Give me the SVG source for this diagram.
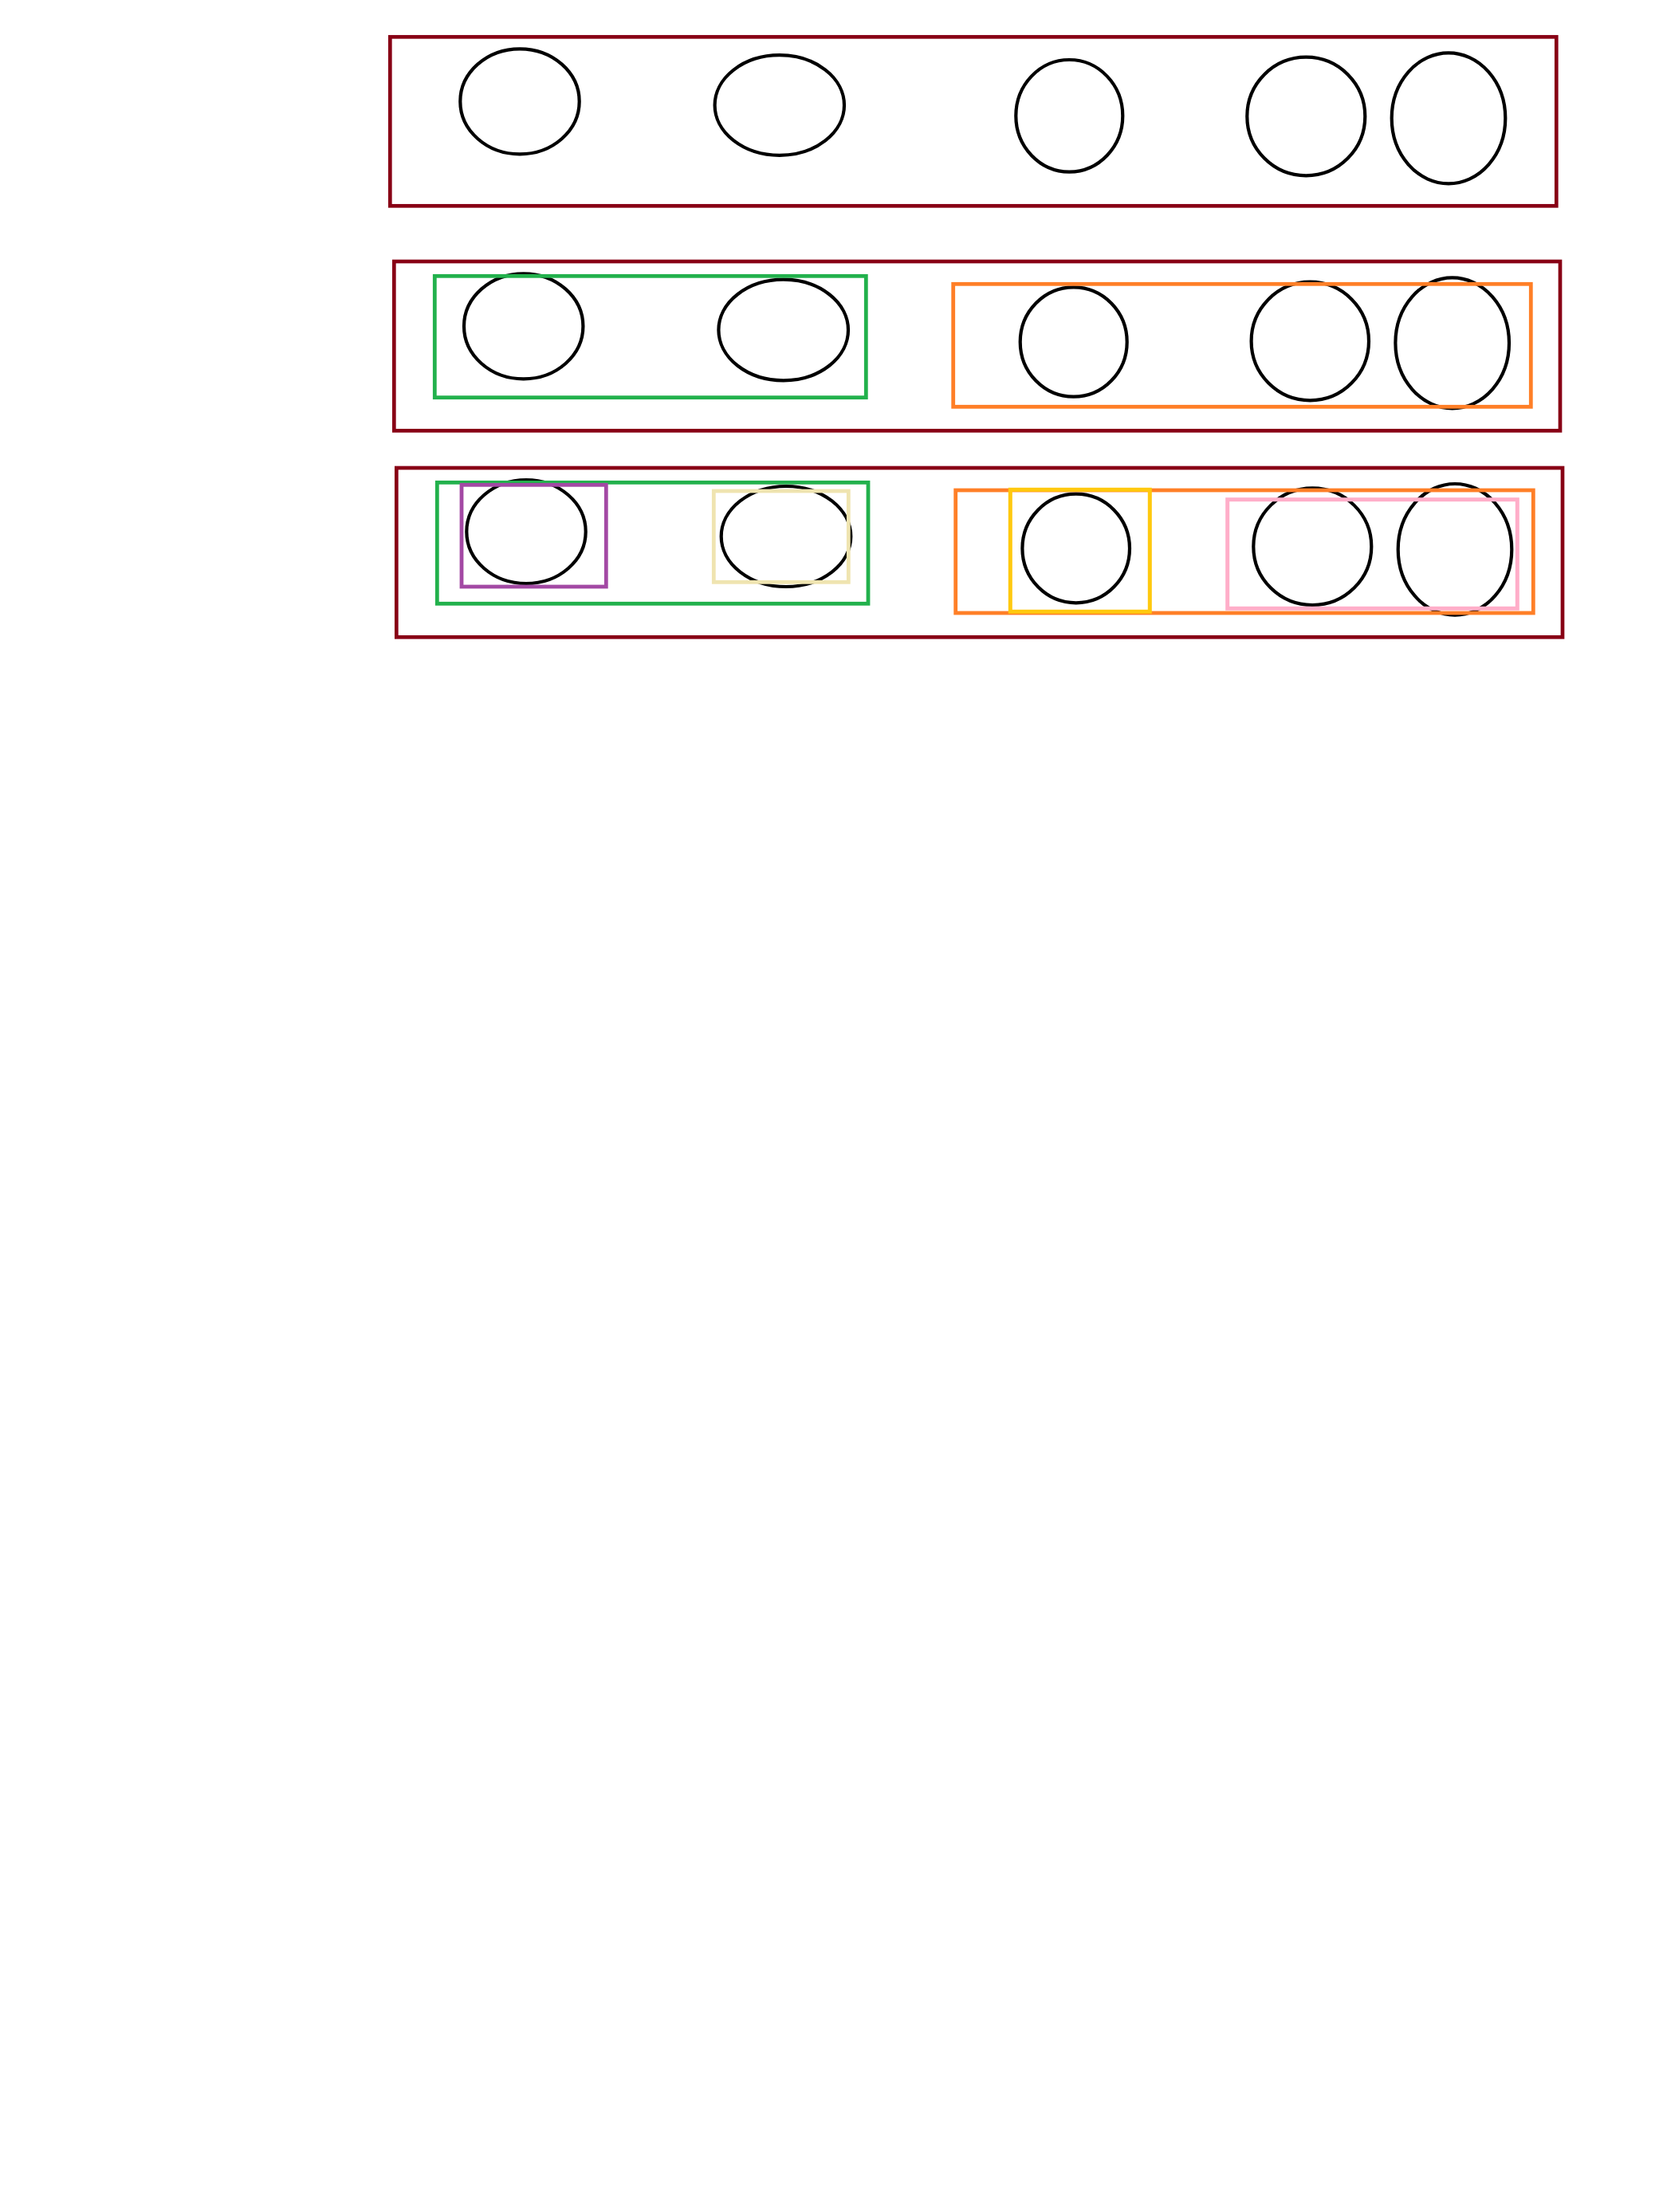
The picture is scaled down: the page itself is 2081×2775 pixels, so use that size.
<svg xmlns="http://www.w3.org/2000/svg" width="2081" height="2775" viewBox="0 0 2081 2775">
<style>
.n{fill:none;stroke:#000;stroke-width:4.2}
.frame{fill:none;stroke:#880015;stroke-width:4.7}
.g{fill:none;stroke:#22B14C;stroke-width:4.8}
.o{fill:none;stroke:#FF7F27;stroke-width:4.8}
.p{fill:none;stroke:#A349A4;stroke-width:4.8}
.b{fill:none;stroke:#EFE4B0;stroke-width:4.8}
.y{fill:none;stroke:#FFC90E;stroke-width:5}
.k{fill:none;stroke:#FFAEC9;stroke-width:5}
</style>
<rect width="2081" height="2775" fill="#fff"/>
<g id="row1">
<rect class="frame" x="489.3" y="46.3" width="1463" height="212"/>
<g id="r1n1"><ellipse class="n" cx="652" cy="127.3" rx="74.7" ry="66"/></g>
<g id="r1n2"><ellipse class="n" cx="977.8" cy="132" rx="81.2" ry="62.8"/></g>
<g id="r1n3"><ellipse class="n" cx="1341.3" cy="145.3" rx="67" ry="70.3"/></g>
<g id="r1n4"><ellipse class="n" cx="1638.3" cy="146" rx="74" ry="74.3"/></g>
<g id="r1n5"><ellipse class="n" cx="1817" cy="148.3" rx="71.3" ry="82"/></g>
</g>
<g id="row2">
<rect class="frame" x="494.3" y="328" width="1462.7" height="212.3"/>
<g id="r2n1"><ellipse class="n" cx="656.7" cy="409.3" rx="74.7" ry="66"/></g>
<g id="r2n2"><ellipse class="n" cx="982.7" cy="414" rx="81.3" ry="63.3"/></g>
<g id="r2n3"><ellipse class="n" cx="1346.7" cy="429" rx="67" ry="68.7"/></g>
<g id="r2n4"><ellipse class="n" cx="1643.3" cy="428" rx="73.7" ry="74.3"/></g>
<g id="r2n5"><ellipse class="n" cx="1821.7" cy="430.3" rx="71.3" ry="82"/></g>
<rect id="r2green" class="g" x="545.3" y="346.3" width="541" height="152.4"/>
<rect id="r2orange" class="o" x="1195.7" y="356.3" width="724.6" height="154"/>
</g>
<g id="row3">
<rect class="frame" x="497.3" y="587" width="1462.7" height="212.3"/>
<g id="r3n1"><ellipse class="n" cx="660" cy="667" rx="74.7" ry="65"/></g>
<g id="r3n2"><ellipse class="n" cx="986" cy="673" rx="81.3" ry="63"/></g>
<g id="r3n3"><ellipse class="n" cx="1349.7" cy="688" rx="67.3" ry="68.3"/></g>
<g id="r3n4"><ellipse class="n" cx="1646.3" cy="685.7" rx="74" ry="73.3"/></g>
<g id="r3n5"><ellipse class="n" cx="1825" cy="689.3" rx="71.3" ry="82.3"/></g>
<rect id="r3green" class="g" x="548.3" y="605.3" width="540.7" height="152"/>
<rect id="r3purple" class="p" x="579" y="608.3" width="181.3" height="127.7"/>
<rect id="r3beige" class="b" x="895.3" y="616" width="169" height="114.3"/>
<rect id="r3orange" class="o" x="1198.7" y="615" width="724.6" height="154"/>
<rect id="r3yellow" class="y" x="1267.3" y="614.3" width="175" height="153"/>
<rect id="r3pink" class="k" x="1539.7" y="626.7" width="363.6" height="136.6"/>
</g>
</svg>
